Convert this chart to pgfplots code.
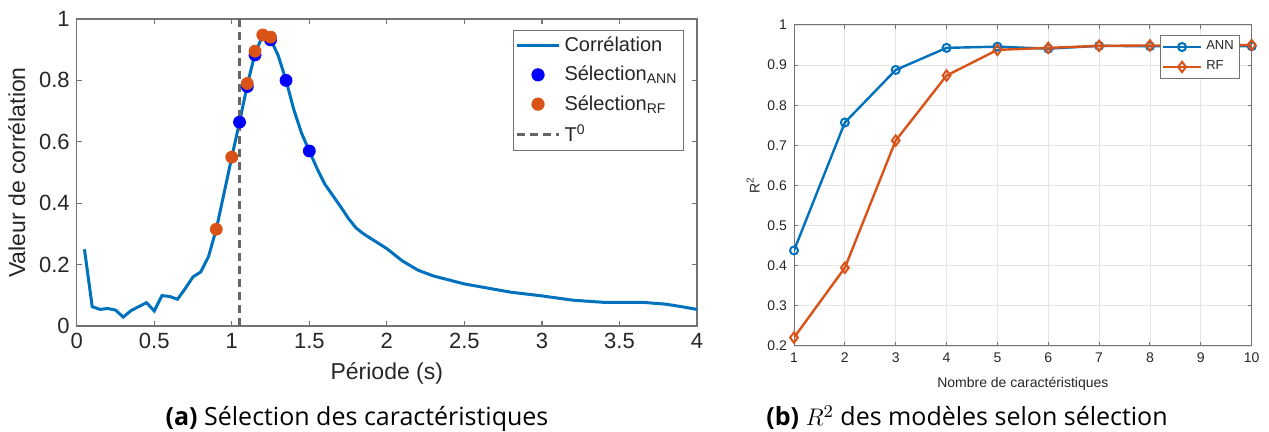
\documentclass[border=0pt]{standalone}
\usepackage{pgfplots}
\pgfplotsset{compat=1.18}
\usepackage{fontspec}
\setmainfont{Open Sans}
\newfontfamily\arial{Liberation Sans}
\definecolor{mblue}{rgb}{0,0.447,0.741}
\definecolor{morange}{rgb}{0.85,0.325,0.098}
\definecolor{txt}{rgb}{0.15,0.15,0.15}
\definecolor{axc}{rgb}{0.45,0.45,0.45}

\pgfplotstableread{
x y
0.05 0.250
0.10 0.063
0.15 0.054
0.20 0.057
0.25 0.052
0.30 0.029
0.35 0.050
0.40 0.063
0.45 0.076
0.50 0.049
0.55 0.099
0.60 0.096
0.65 0.087
0.70 0.122
0.75 0.160
0.80 0.176
0.85 0.226
0.90 0.315
0.95 0.432
1.00 0.550
1.05 0.664
1.10 0.785
1.15 0.888
1.20 0.947
1.25 0.935
1.30 0.880
1.35 0.800
1.40 0.705
1.45 0.628
1.50 0.570
1.55 0.513
1.60 0.462
1.70 0.390
1.75 0.352
1.80 0.320
1.85 0.300
1.90 0.284
2.00 0.252
2.10 0.212
2.20 0.182
2.30 0.163
2.50 0.137
2.80 0.110
3.00 0.098
3.20 0.084
3.40 0.077
3.65 0.077
3.80 0.071
3.90 0.063
4.00 0.054
}\corr

\pgfplotstableread{
x y
1.05 0.664
1.10 0.780
1.15 0.883
1.25 0.932
1.35 0.800
1.50 0.570
}\ann

\pgfplotstableread{
x y
0.90 0.315
1.00 0.550
1.10 0.790
1.15 0.895
1.20 0.948
1.25 0.941
}\rf

\pgfplotstableread{
n ann rf
1 0.438 0.221
2 0.757 0.395
3 0.888 0.712
4 0.943 0.874
5 0.946 0.938
6 0.941 0.943
7 0.948 0.948
8 0.947 0.949
9 0.947 0.949
10 0.947 0.950
}\rsq

\begin{document}
\begin{tikzpicture}
\useasboundingbox (0,0) rectangle (634.5pt,216pt);

\begin{axis}[
  at={(38.35pt,53pt)}, anchor=south west,
  scale only axis, width=310.15pt, height=153.5pt,
  xmin=0, xmax=4, ymin=0, ymax=1,
  xtick={0,0.5,1,1.5,2,2.5,3,3.5,4},
  ytick={0,0.2,0.4,0.6,0.8,1},
  axis line style={axc, line width=0.6pt},
  tick style={axc, line width=0.6pt},
  major tick length=2.5pt,
  tick align=inside,
  /pgf/number format/assume math mode=true,
  ticklabel style={font=\fontsize{11}{13}\selectfont\arial, text=txt},
  xlabel={Période (s)},
  ylabel={Valeur de corrélation},
  label style={font=\fontsize{11.5}{13}\selectfont\arial, text=txt},
  legend style={at={(0.979,0.964)}, anchor=north east, draw=axc,
    font=\fontsize{10}{12}\selectfont\arial, text=txt,
    row sep=1.8pt, inner sep=1pt, line width=0.6pt},
  legend cell align=left,
  legend image code/.code={\draw[mark repeat=2,mark phase=2] plot coordinates {(0pt,0pt) (10.5pt,0pt) (21pt,0pt)};},
]
\addplot[mblue, line width=1.5pt] table[x=x,y=y] {\corr};
\addlegendentry{Corrélation}
\addplot[only marks, mark=*, mark size=3pt, blue, mark options={draw=blue, fill=blue}] table[x=x,y=y] {\ann};
\addlegendentry{Sélection\textsubscript{ANN}}
\addplot[only marks, mark=*, mark size=3pt, morange, mark options={draw=morange, fill=morange}] table[x=x,y=y] {\rf};
\addlegendentry{Sélection\textsubscript{RF}}
\addplot[color={rgb,1:red,0.4;green,0.4;blue,0.4}, line width=1.2pt, dash pattern=on 4pt off 2.5pt] coordinates {(1.05,0) (1.05,1)};
\addlegendentry{T\textsuperscript{0}}
\end{axis}

\begin{axis}[
  at={(397pt,43pt)}, anchor=south west,
  scale only axis, width=228.85pt, height=160.5pt,
  xmin=1, xmax=10, ymin=0.2, ymax=1,
  xtick={1,2,3,4,5,6,7,8,9,10},
  ytick={0.2,0.3,0.4,0.5,0.6,0.7,0.8,0.9,1},
  grid=major,
  grid style={black!10, line width=0.4pt},
  axis line style={axc, line width=0.5pt},
  tick style={axc, line width=0.5pt},
  major tick length=2pt,
  tick align=inside,
  /pgf/number format/assume math mode=true,
  ticklabel style={font=\fontsize{7}{8}\selectfont\arial, text=txt},
  xlabel={Nombre de caractéristiques},
  ylabel={R\textsuperscript{2}},
  ylabel style={yshift=-3pt},
  label style={font=\fontsize{7}{8}\selectfont\arial, text=txt},
  legend style={at={(0.974,0.969)}, anchor=north east, draw=axc,
    font=\fontsize{6.5}{7.5}\selectfont\arial, text=txt,
    row sep=0pt, inner sep=0.8pt, line width=0.5pt},
  legend cell align=left,
  legend image code/.code={\draw[mark repeat=2,mark phase=2] plot coordinates {(0pt,0pt) (9.5pt,0pt) (19pt,0pt)};},
]
\addplot[mblue, line width=1.2pt, mark=o, mark size=2pt, mark options={line width=1pt}] table[x=n,y=ann] {\rsq};
\addlegendentry{ANN}
\addplot[morange, line width=1.2pt, mark=diamond, mark size=2.6pt, mark options={line width=1pt}] table[x=n,y=rf] {\rsq};
\addlegendentry{RF}
\end{axis}

\node[anchor=base, font=\fontsize{12.5}{15}\selectfont] at (178.5pt,3pt) {\textbf{(a)} Sélection des caractéristiques};
\node[anchor=base, font=\fontsize{12.5}{15}\selectfont] at (483.5pt,3pt) {\textbf{(b)} $R^2$ des modèles selon sélection};
\end{tikzpicture}
\end{document}
